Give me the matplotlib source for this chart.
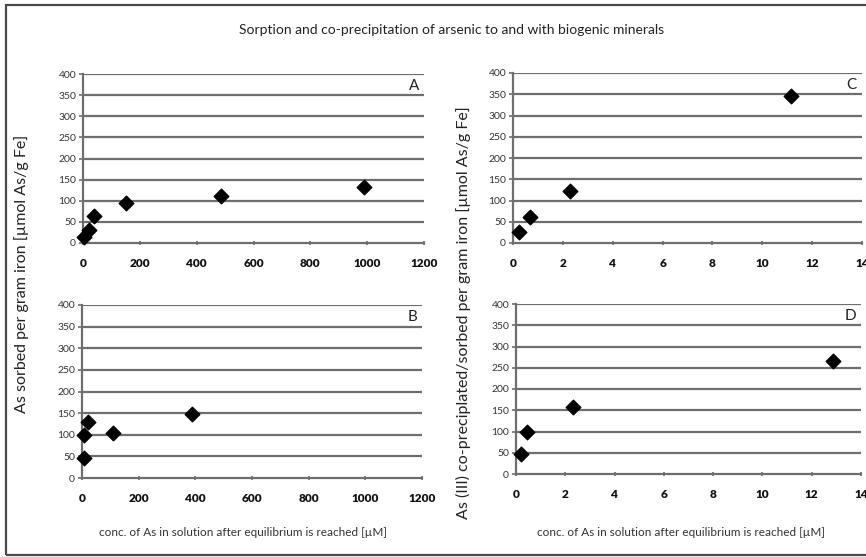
import matplotlib
matplotlib.use("Agg")
import matplotlib.pyplot as plt
from matplotlib.patches import Rectangle

# Sorption data (panels A, B) and co-precipitation data (panels C, D)
a_conc = [5, 20, 38, 152, 487, 988]
a_sorbed = [15, 30, 65, 95, 112, 133]

b_conc = [6, 6, 21, 108, 388]
b_sorbed = [47, 100, 130, 103, 149]

c_conc = [0.23, 0.7, 2.27, 11.15]
c_sorbed = [25, 61, 123, 345]

d_conc = [0.2, 0.46, 2.33, 12.86]
d_sorbed = [48, 100, 158, 265]

y_ticks = [0, 50, 100, 150, 200, 250, 300, 350, 400]
x_ticks_left = [0, 200, 400, 600, 800, 1000, 1200]
x_ticks_right = [0, 2, 4, 6, 8, 10, 12, 14]

title = "Sorption and co-precipitation of arsenic to and with biogenic minerals"
ylabel_left = "As sorbed per gram iron [\u00b5mol As/g Fe]"
ylabel_right = "As (III) co-preciplated/sorbed per gram iron [\u00b5mol As/g Fe]"
xlabel = "conc. of As in solution after equilibrium is reached [\u00b5M]"

plt.rcParams["font.family"] = ["Lato", "DejaVu Sans"]

W, H = 866, 557
fig = plt.figure(figsize=(W / 100, H / 100), dpi=100)
fig.patch.set_facecolor("white")

# outer frame
fig.patches.append(Rectangle((6 / W, 1 - 555 / H), (870 - 6) / W, (555 - 5) / H,
                             transform=fig.transFigure, fill=False,
                             edgecolor="#4a4a4a", linewidth=1.6))

GRID = "#6e6e6e"


def px_rect(left, top, right, bottom):
    return [left / W, 1 - bottom / H, (right - left) / W, (bottom - top) / H]


def panel(rect, xs, ys, xticks, letter):
    ax = fig.add_axes(rect)
    ax.scatter(xs, ys, marker="D", s=55, color="black", zorder=5, clip_on=False)
    ax.set_xlim(xticks[0], xticks[-1])
    ax.set_ylim(0, 400)
    ax.set_xticks(xticks)
    ax.set_yticks(y_ticks)
    ax.set_xticklabels([str(t) for t in xticks], fontsize=8.5, fontweight="heavy",
                       color="#111111")
    ax.set_yticklabels([str(t) for t in y_ticks], fontsize=7.5, color="#333333")
    for t in y_ticks[1:]:
        ax.axhline(t, color=GRID, linewidth=1.6, zorder=1)
    for s in ("top", "right"):
        ax.spines[s].set_visible(False)
    for s in ("left", "bottom"):
        ax.spines[s].set_color(GRID)
        ax.spines[s].set_linewidth(1.6)
    ax.tick_params(axis="y", length=3, width=1.2, color=GRID, pad=2)
    ax.tick_params(axis="x", length=3, width=1.2, color=GRID, pad=9,
                   direction="inout")
    ax.text(0.985, 0.93, letter, transform=ax.transAxes, ha="right", va="center",
            fontsize=11, color="#222222")
    return ax


panel(px_rect(83, 74, 424, 243), a_conc, a_sorbed, x_ticks_left, "A")
panel(px_rect(82, 305, 422, 478), b_conc, b_sorbed, x_ticks_left, "B")
panel(px_rect(513, 73, 862, 243), c_conc, c_sorbed, x_ticks_right, "C")
panel(px_rect(516, 304, 861, 474), d_conc, d_sorbed, x_ticks_right, "D")

fig.text(452 / W, 1 - 30 / H, title, ha="center", va="center", fontsize=10,
         color="#222222")
fig.text(22 / W, 1 - 274 / H, ylabel_left, ha="center", va="center", rotation=90,
         fontsize=11.5, color="#222222")
fig.text(463 / W, 1 - 313 / H, ylabel_right, ha="center", va="center", rotation=90,
         fontsize=11.5, color="#222222")
fig.text(243 / W, 1 - 532 / H, xlabel, ha="center", va="center", fontsize=8.5,
         color="#333333")
fig.text(681 / W, 1 - 533 / H, xlabel, ha="center", va="center", fontsize=8.5,
         color="#333333")

fig.savefig("out.png", dpi=100, facecolor="white")
